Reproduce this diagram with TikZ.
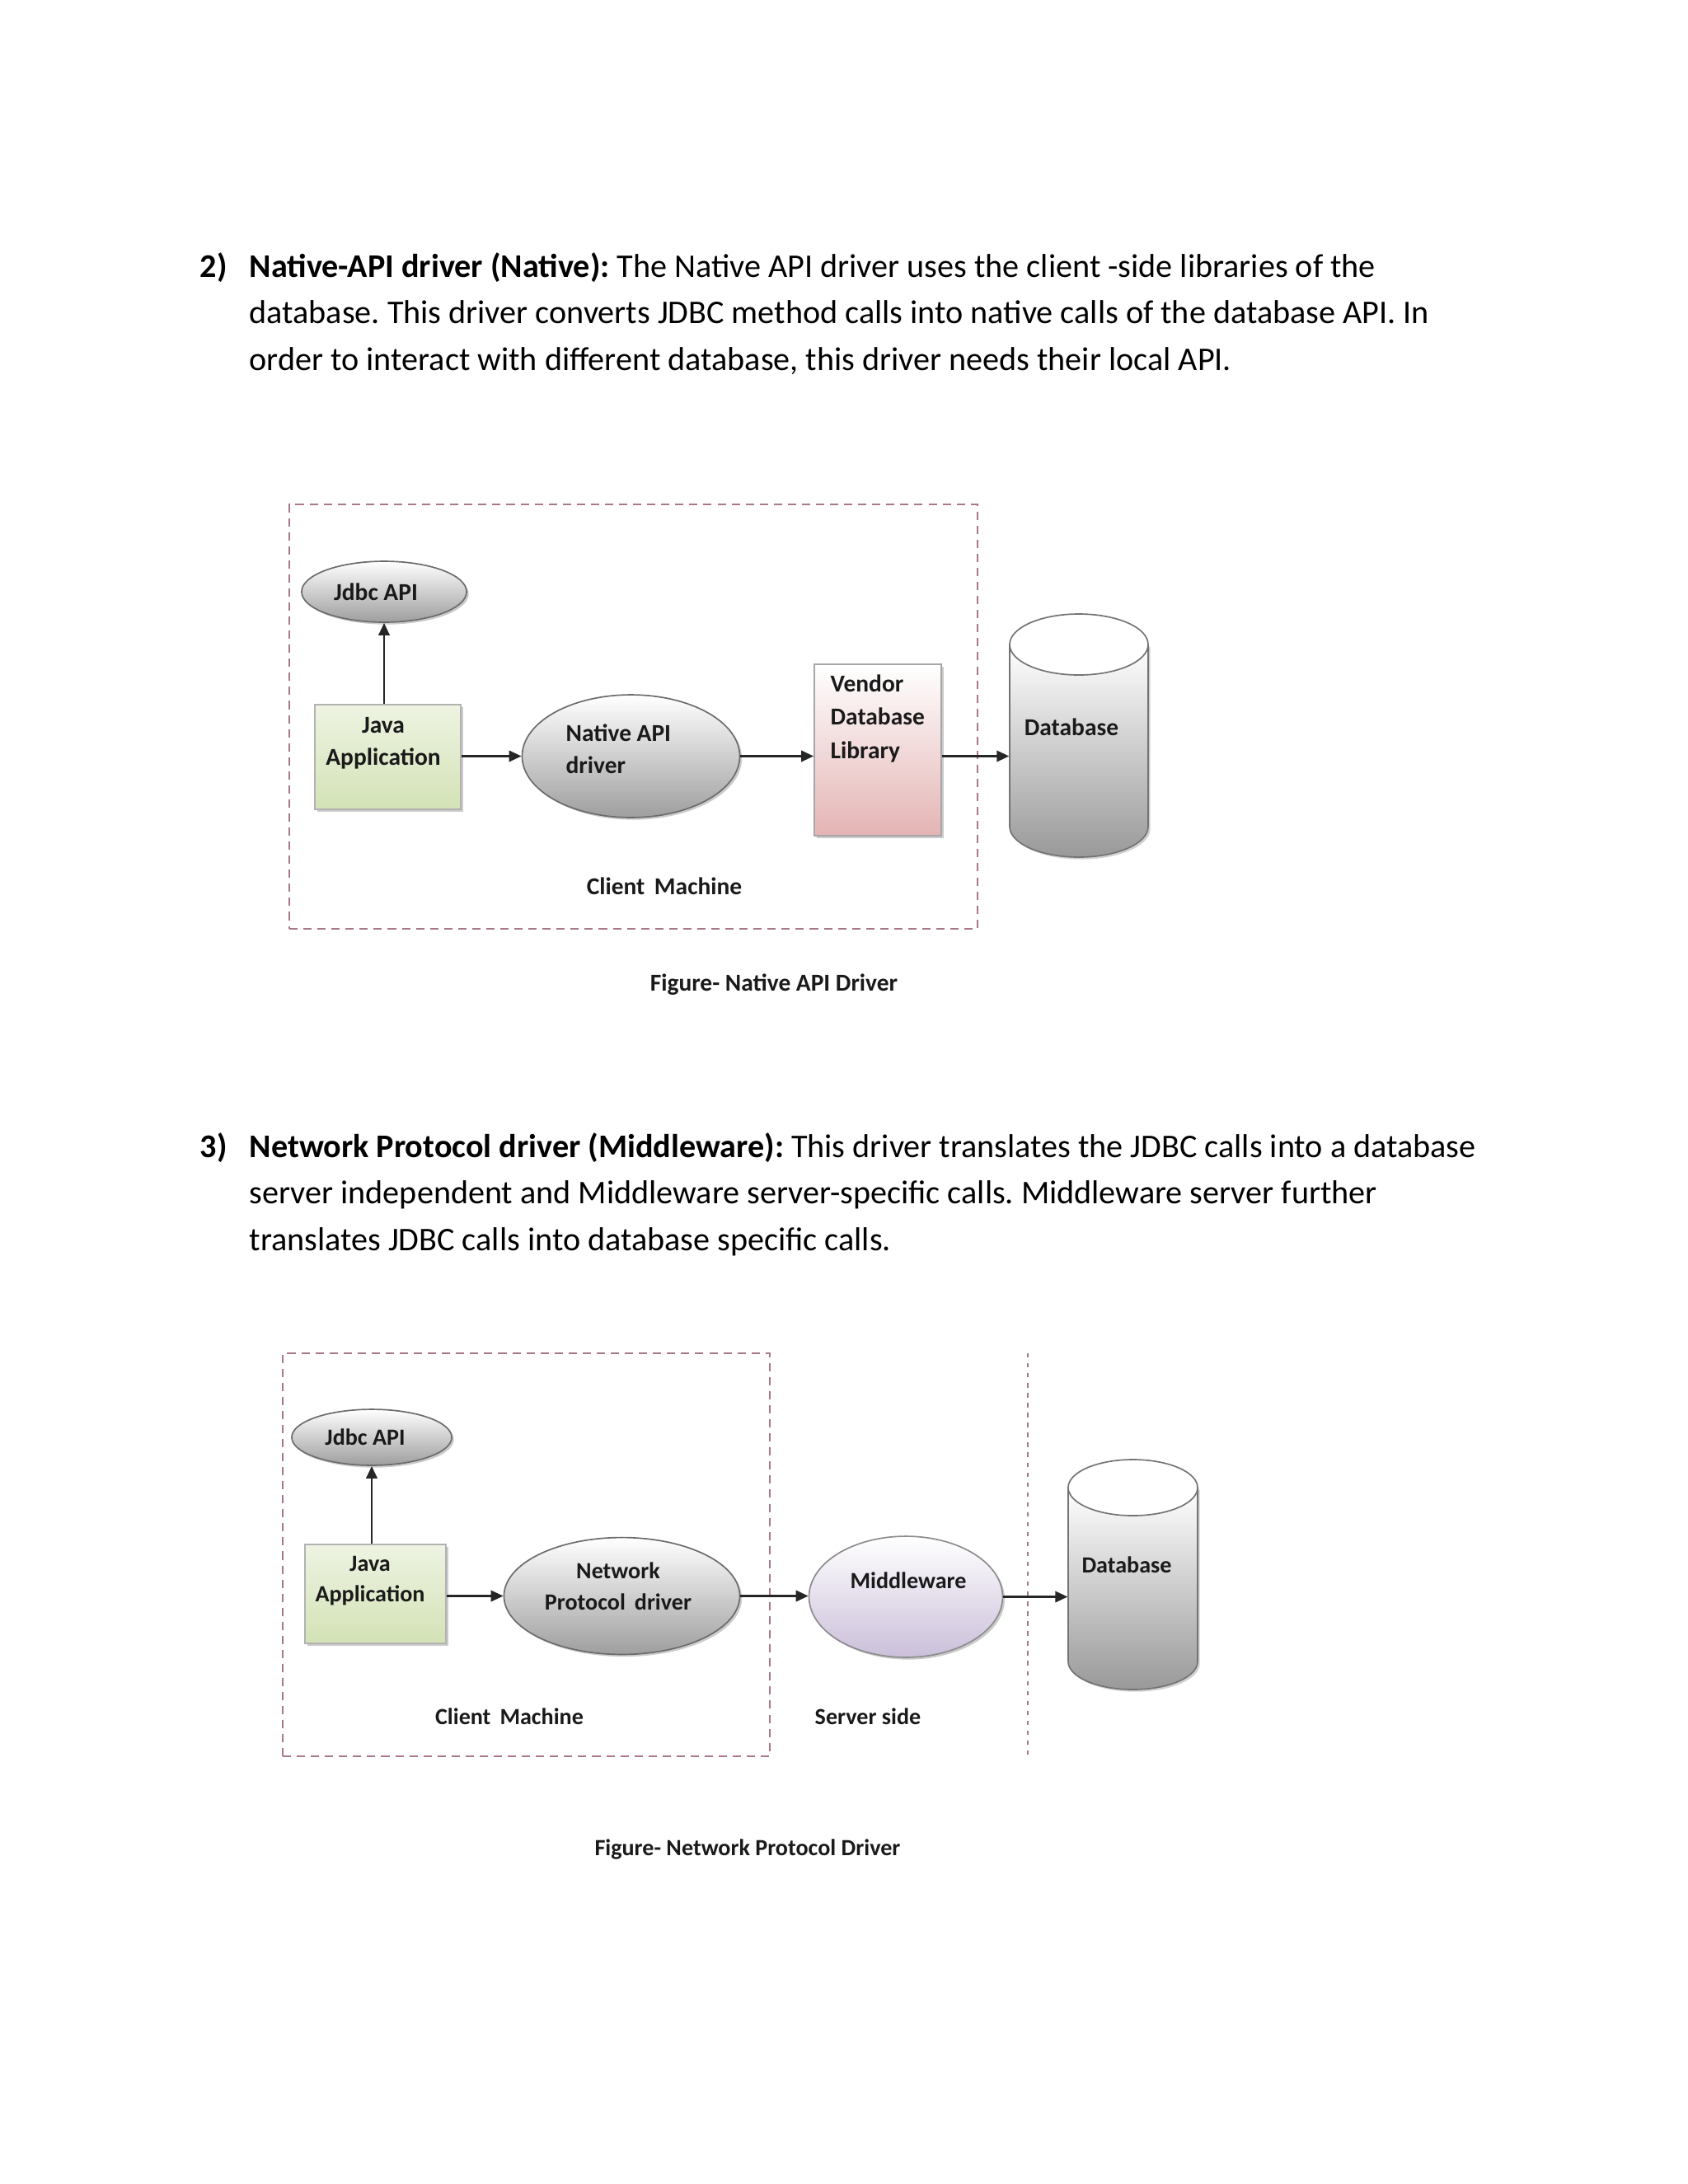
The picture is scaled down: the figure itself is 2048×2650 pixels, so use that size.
\documentclass[tikz,border=0pt]{standalone}
\usepackage{fontspec}
\setmainfont{Carlito}
\frenchspacing
\usetikzlibrary{arrows.meta,shapes.geometric,shadows,fit}
\definecolor{txt}{HTML}{1A1A1A}
\definecolor{dashcol}{HTML}{A87884}
\definecolor{greenbot}{HTML}{D3E2B6}
\definecolor{pinkbot}{HTML}{E4B4B4}
\definecolor{lilacbot}{HTML}{CBBFDA}
\tikzset{
  body/.style={font=\fontsize{12}{14}\selectfont, text=black, inner sep=0, anchor=base west},
  lblA/.style={font=\fontsize{8.8}{11.7}\selectfont\bfseries, text=txt, inner sep=0},
  lblB/.style={font=\fontsize{8.4}{11.2}\selectfont\bfseries, text=txt, inner sep=0},
  arr/.style={draw=black!85, line width=0.75pt, -{Triangle[length=4.5pt,width=4pt]}},
  shade1/.style={drop shadow={shadow xshift=0.8pt, shadow yshift=-0.8pt, fill=black!45, opacity=0.45}},
  grayell/.style={ellipse, draw=black!58, line width=0.5pt, top color=white, bottom color=black!38, inner sep=0, shade1},
  lilacell/.style={ellipse, draw=black!45, line width=0.5pt, top color=white, bottom color=lilacbot, inner sep=0, shade1},
  greenbox/.style={rectangle, draw=black!30, line width=0.5pt, top color=white!60!greenbot, bottom color=greenbot, inner sep=0, shade1},
  pinkbox/.style={rectangle, draw=black!35, line width=0.5pt, top color=white, bottom color=pinkbot, inner sep=0, shade1},
  dashbox/.style={draw=dashcol, line width=0.7pt, dash pattern=on 3pt off 2.1pt},
  dashsep/.style={draw=dashcol, line width=0.7pt, dash pattern=on 1.6pt off 2pt},
  area/.style={rectangle, inner sep=0}
}
\newcommand\dbcyl[5]{% left, right, top, bottom, ry
  \fill[black!40, opacity=0.45, xshift=0.8pt, yshift=-0.8pt] (#1,#3+#5) -- (#1,#4-#5) arc[start angle=180, end angle=0, x radius={(#2-#1)/2}, y radius=#5] -- (#2,#3+#5) -- cycle;
  \path[draw=black!55, line width=0.5pt, top color=white, bottom color=black!40] (#1,#3+#5) -- (#1,#4-#5) arc[start angle=180, end angle=0, x radius={(#2-#1)/2}, y radius=#5] -- (#2,#3+#5) -- cycle;
  \draw[black!55, line width=0.5pt, fill=white] ({(#1+#2)/2},#3+#5) ellipse [x radius={(#2-#1)/2}, y radius=#5];
}
\begin{document}
\begin{tikzpicture}[x=0.29883pt, y=-0.29883pt]
\useasboundingbox[fill=white] (0,0) rectangle (2048,2650);

% ---------- Section 2 text ----------
\node[body] (n2) at (242,336) {\bfseries 2)};
\node[body] (p2a) at (302,336) {\bfseries Native-API driver (Native):\mdseries{} The Native API driver uses the client -side libraries of the};
\node[body] (p2b) at (302,392.5) {database. This driver converts JDBC method calls into native calls of the database API. In};
\node[body] (p2c) at (302,449) {order to interact with different database, this driver needs their local API.};

% ---------- Diagram 1 ----------
\node[dashbox, fit={(351,612)(1186,1127)}, inner sep=0] (client1) {};
\node[grayell, minimum width=59.8pt, minimum height=22.1pt] (jdbc1) at (466,718) {};
\node[greenbox, fit={(382,855)(559,982)}] (java1) {};
\node[grayell, minimum width=78.9pt, minimum height=44.5pt] (native1) at (765.5,917.5) {};
\node[pinkbox, fit={(988,806)(1142,1014)}] (vendor1) {};
\dbcyl{1225}{1393}{745}{1040}{37}
\node[area, fit={(1225,745)(1393,1040)}] (db1) {};

\node[lblA] (tjdbc1) at (456,718) {Jdbc API};
\node[lblA, align=center] (tjava1) at (465,901.5) {Java\\Application};
\node[lblA, align=left, anchor=west] (tnative1) at (686,908.5) {Native API\\driver};
\node[lblA, align=left, anchor=west, font=\fontsize{8.8}{12.1}\selectfont\bfseries] (tvendor1) at (1007,871.5) {Vendor\\Database\\Library};
\node[lblA] (tdb1) at (1300,882) {Database};
\node[lblA] (tclient1) at (806,1075) {Client\, Machine};
\node[lblA] (cap1) at (939,1195) {Figure- Native API Driver};

\draw[arr] (jdbc1.south |- java1.north) -- (jdbc1.south);
\draw[arr] (java1.east |- native1.west) -- (native1.west);
\draw[arr] (native1.east) -- (native1.east -| vendor1.west);
\draw[arr] (vendor1.east |- native1.east) -- (native1.east -| db1.west);

% ---------- Section 3 text ----------
\node[body] (n3) at (242,1404) {\bfseries 3)};
\node[body] (p3a) at (302,1404) {\bfseries Network Protocol driver (Middleware):\mdseries{} This driver translates the JDBC calls into a database};
\node[body] (p3b) at (302,1460.5) {server independent and Middleware server-specific calls. Middleware server further};
\node[body] (p3c) at (302,1517) {translates JDBC calls into database specific calls.};

% ---------- Diagram 2 ----------
\node[dashbox, fit={(343,1642)(934,2131)}, inner sep=0] (client2) {};
\coordinate (sepTop) at (1247,1642);
\coordinate (sepBot) at (1247,2131);
\draw[dashsep] (sepTop) -- (sepBot);
\node[grayell, minimum width=58pt, minimum height=20.3pt] (jdbc2) at (451,1744) {};
\node[greenbox, fit={(370,1874)(541,1994)}] (java2) {};
\node[grayell, minimum width=85.5pt, minimum height=42.4pt] (net2) at (754.5,1936.5) {};
\node[lilacell, minimum width=70.2pt, minimum height=43.9pt] (mid2) at (1099,1937.5) {};
\dbcyl{1296}{1453}{1771}{2050}{34}
\node[area, fit={(1296,1771)(1453,2050)}] (db2) {};

\node[lblB] (tjdbc2) at (443,1744) {Jdbc API};
\node[lblB, align=center] (tjava2) at (449,1918) {Java\\Application};
\node[lblB, align=center] (tnet2) at (750,1924.5) {Network\\Protocol\, driver};
\node[lblB] (tmid2) at (1102,1918) {Middleware};
\node[lblB] (tdb2) at (1367,1899) {Database};
\node[lblB] (tclient2) at (618,2083) {Client\, Machine};
\node[lblB] (tserver2) at (1053,2083) {Server side};
\node[lblB] (cap2) at (907,2244) {Figure- Network Protocol Driver};

\draw[arr] (jdbc2.south |- java2.north) -- (jdbc2.south);
\draw[arr] (java2.east |- net2.west) -- (net2.west);
\draw[arr] (net2.east) -- (net2.east -| mid2.west);
\draw[arr] (mid2.east) -- (mid2.east -| db2.west);
\end{tikzpicture}
\end{document}
